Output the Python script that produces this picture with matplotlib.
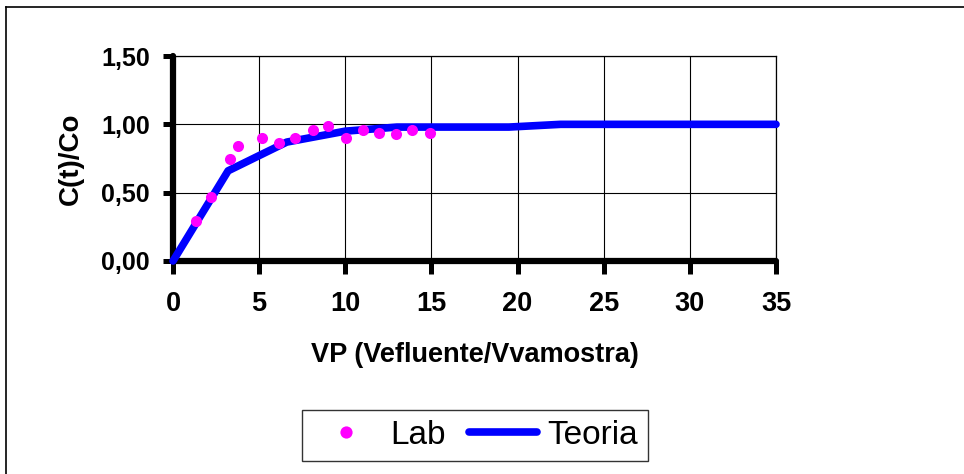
import numpy as np
import matplotlib
matplotlib.use('Agg')
import matplotlib.pyplot as plt
from matplotlib.lines import Line2D
from matplotlib.ticker import FuncFormatter

plt.rcParams['font.family'] = ['Liberation Sans', 'DejaVu Sans']

vp_lab = [1.33, 2.23, 3.29, 3.77, 5.17, 6.17, 7.06, 8.14, 9.02, 10.02,
          11.0, 11.96, 12.94, 13.87, 14.93]
c_lab = [0.29, 0.47, 0.75, 0.84, 0.90, 0.86, 0.90, 0.96, 0.99, 0.90,
         0.96, 0.94, 0.93, 0.96, 0.94]

# theory curve
vp_teo = [0, 3.2, 6.6, 10.0, 13.0, 19.5, 22.5, 35.0]
c_teo = [0, 0.66, 0.87, 0.95, 0.98, 0.98, 1.0, 1.0]

xticks = [0, 5, 10, 15, 20, 25, 30, 35]
yticks = [0, 0.5, 1.0, 1.5]

W, H = 964, 474
fig = plt.figure(figsize=(W / 100, H / 100), dpi=100)
fig.patch.set_facecolor('white')

# plot area in pixels: left 173, right 776, top 56, bottom 261
ax = fig.add_axes([173 / W, 1 - 261 / H, (776 - 173) / W, (261 - 56) / H])

line, = ax.plot(vp_teo, c_teo, color='#0000FF', lw=5.5, solid_capstyle='round',
                solid_joinstyle='round', clip_on=False, zorder=3)
pts, = ax.plot(vp_lab, c_lab, 'o', color='#FF00FF', ms=8, mec='none',
               clip_on=False, zorder=4)

ax.set_xlim(0, 35)
ax.set_ylim(0, 1.5)
ax.set_xticks(xticks)
ax.set_yticks(yticks)
ax.yaxis.set_major_formatter(FuncFormatter(lambda v, p: f'{v:.2f}'.replace('.', ',')))

ax.grid(True, color='black', lw=0.8)
ax.set_axisbelow(True)

for s in ['left', 'bottom']:
    ax.spines[s].set_linewidth(4.5)
    ax.spines[s].set_capstyle('round')
for s in ['top', 'right']:
    ax.spines[s].set_linewidth(0.9)

ax.tick_params(axis='x', direction='out', length=9, width=3.6, pad=12.5,
               labelsize=19.5)
ax.tick_params(axis='y', direction='out', length=7.5, width=3.6, pad=9,
               labelsize=18)
for lab in ax.get_xticklabels() + ax.get_yticklabels():
    lab.set_fontweight('bold')

ax.set_xlabel('VP (Vefluente/Vvamostra)', fontsize=19.5, fontweight='bold')
ax.set_ylabel('C(t)/Co', fontsize=20, fontweight='bold')
ax.xaxis.set_label_coords(0.5, (261 - 355) / (261 - 56))
ax.xaxis.label.set_va('center')
ax.yaxis.set_label_coords((71 - 173) / (776 - 173), (261 - 159) / (261 - 56))
ax.yaxis.label.set_va('center')

# outer chart frame (only top and left show inside the image)
fig.add_artist(Line2D([6 / W, 1.0], [1 - 7 / H, 1 - 7 / H], color='black', lw=1.2))
fig.add_artist(Line2D([6 / W, 6 / W], [0.0, 1 - 7 / H], color='black', lw=1.2))

leg = fig.legend([pts, line], ['Lab', 'Teoria'], loc='center',
                 bbox_to_anchor=(475 / W, 1 - 435 / H), ncol=2, fontsize=24,
                 frameon=True, fancybox=False, edgecolor='black',
                 borderpad=0.3, handlelength=2.05, handletextpad=0.3,
                 columnspacing=0.7, borderaxespad=0, markerscale=1.1)
leg.get_frame().set_linewidth(1.0)

fig.savefig('out.png', dpi=100)
